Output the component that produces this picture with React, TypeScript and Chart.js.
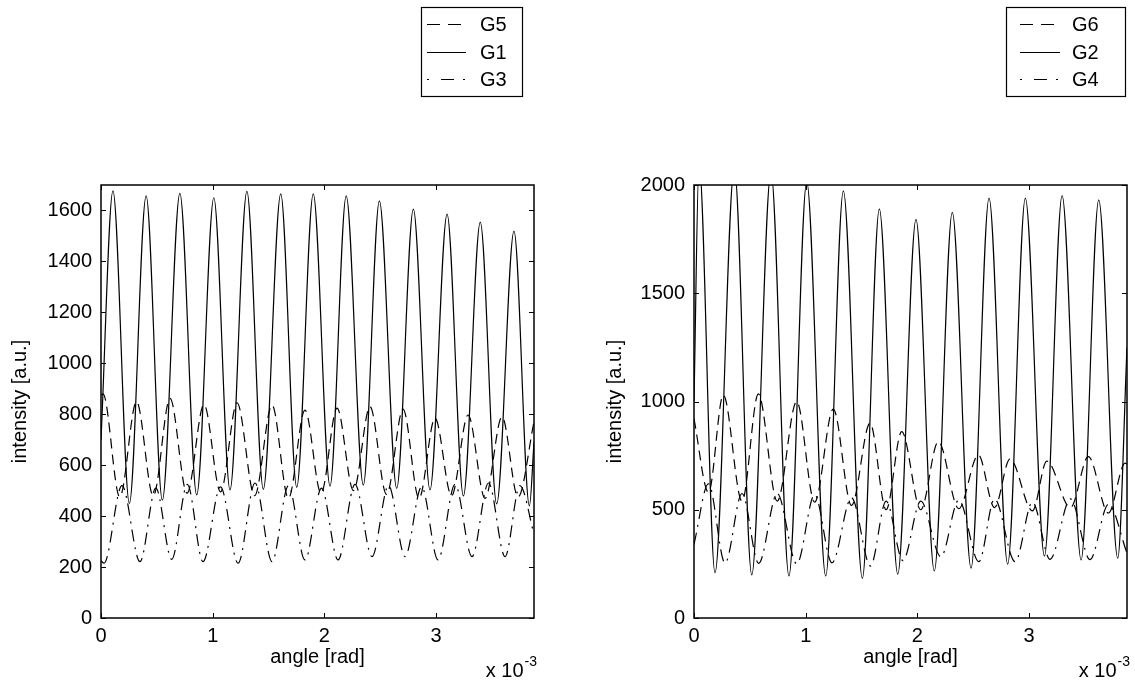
import React, { useEffect, useRef } from 'react';
import { Chart, registerables } from 'chart.js';

Chart.register(...registerables);

const FAMILY = "'Liberation Sans', Arial, Helvetica, sans-serif";
const FS = 20;

// ---------- data: angle in units of 1e-3 rad, intensity in a.u. ----------
// left panel
const g5Angle = [0, 0.018, 0.168, 0.318, 0.468, 0.618, 0.770, 0.922, 1.070, 1.218, 1.375, 1.531, 1.678, 1.826, 1.970, 2.113, 2.260, 2.408, 2.556, 2.704, 2.847, 2.990, 3.138, 3.286, 3.438, 3.590, 3.733, 3.876];
const g5Intensity = [875, 880, 475, 849, 480, 862, 490, 838, 495, 845, 480, 836, 470, 816, 490, 824, 500, 830, 485, 820, 470, 785, 480, 797, 470, 790, 475, 770];

const g1Angle = [0, 0.107, 0.254, 0.404, 0.549, 0.706, 0.857, 1.010, 1.155, 1.306, 1.453, 1.609, 1.752, 1.900, 2.050, 2.195, 2.348, 2.492, 2.647, 2.796, 2.945, 3.098, 3.244, 3.395, 3.542, 3.697, 3.835, 3.876];
const g1Intensity = [700, 1677, 450, 1657, 463, 1667, 483, 1650, 503, 1675, 505, 1665, 513, 1665, 518, 1657, 522, 1638, 509, 1605, 503, 1586, 479, 1554, 448, 1519, 440, 690];

const g3Angle = [0, 0.027, 0.188, 0.349, 0.491, 0.633, 0.773, 0.913, 1.070, 1.227, 1.379, 1.531, 1.678, 1.826, 1.974, 2.122, 2.274, 2.426, 2.574, 2.722, 2.870, 3.017, 3.169, 3.321, 3.469, 3.617, 3.750, 3.876];
const g3Intensity = [225, 215, 520, 221, 510, 230, 525, 221, 515, 215, 530, 221, 520, 228, 510, 228, 525, 241, 520, 241, 515, 228, 525, 241, 530, 241, 520, 330];

// right panel
const g6Angle = [0, 0.130, 0.262, 0.430, 0.576, 0.745, 0.919, 1.080, 1.247, 1.410, 1.576, 1.720, 1.859, 2.030, 2.187, 2.370, 2.545, 2.690, 2.829, 3.030, 3.158, 3.370, 3.530, 3.710, 3.859, 3.876];
const g6Intensity = [920, 580, 1030, 540, 1035, 540, 1000, 535, 965, 520, 900, 500, 861, 500, 815, 505, 753, 510, 735, 495, 725, 510, 745, 485, 715, 712];

const g2Angle = [0, 0.045, 0.188, 0.361, 0.517, 0.689, 0.850, 1.009, 1.179, 1.337, 1.507, 1.659, 1.824, 1.987, 2.151, 2.312, 2.480, 2.641, 2.808, 2.966, 3.137, 3.295, 3.465, 3.623, 3.793, 3.876];
const g2Intensity = [1000, 2100, 209, 2080, 199, 2060, 194, 2015, 194, 1973, 183, 1890, 202, 1841, 217, 1874, 230, 1939, 249, 1939, 286, 1951, 268, 1931, 276, 1250];

const g4Angle = [0, 0.130, 0.278, 0.430, 0.579, 0.745, 0.920, 1.080, 1.235, 1.410, 1.580, 1.720, 1.870, 2.030, 2.210, 2.370, 2.550, 2.690, 2.874, 3.030, 3.187, 3.370, 3.545, 3.710, 3.876];
const g4Intensity = [340, 620, 254, 575, 252, 575, 250, 570, 255, 555, 240, 540, 265, 540, 283, 545, 260, 550, 260, 535, 271, 550, 270, 525, 300];

// axes
const xMax = 3.876;
const xTicks = [0, 1, 2, 3];
const xTickLabels = ['0', '1', '2', '3'];
const yTicksLeft = [0, 200, 400, 600, 800, 1000, 1200, 1400, 1600];
const yMaxLeft = 1700;
const yTicksRight = [0, 500, 1000, 1500, 2000];
const yMaxRight = 2000;
const xTitle = 'angle [rad]';
const yTitle = 'intensity [a.u.]';
const expBase = 'x 10';
const expPow = '-3';

const DASHED = [10, 6];
const DASHDOT = [12, 6, 2, 6];
const SOLID: number[] = [];

type Series = { label: string; angle: number[]; intensity: number[]; dash: number[]; legendDash: number[] };

const leftSeries: Series[] = [
  { label: 'G5', angle: g5Angle, intensity: g5Intensity, dash: DASHED, legendDash: [13, 8, 13, 100] },
  { label: 'G1', angle: g1Angle, intensity: g1Intensity, dash: SOLID, legendDash: [] },
  { label: 'G3', angle: g3Angle, intensity: g3Intensity, dash: DASHDOT, legendDash: [2, 12, 13, 9, 2, 100] },
];
const rightSeries: Series[] = [
  { label: 'G6', angle: g6Angle, intensity: g6Intensity, dash: DASHED, legendDash: [13, 8, 13, 100] },
  { label: 'G2', angle: g2Angle, intensity: g2Intensity, dash: SOLID, legendDash: [] },
  { label: 'G4', angle: g4Angle, intensity: g4Intensity, dash: DASHDOT, legendDash: [2, 12, 13, 9, 2, 100] },
];

type PanelCfg = {
  canvasLeft: number;
  canvasWidth: number;
  series: Series[];
  yTicks: number[];
  yMax: number;
  yAxisWidth: number;
  padRight: number;
  yTitlePad: number;
  legendBox: [number, number, number, number];
  sampleX: [number, number];
  textX: number;
  rowsY: number[];
};

function makeFramePlugin(cfg: PanelCfg) {
  return {
    id: 'matlabFrame',
    afterDatasetsDraw(chart: any) {
      const { ctx, chartArea: a, scales } = chart;
      ctx.save();
      ctx.strokeStyle = '#000';
      ctx.setLineDash([]);
      // inward tick marks on all four sides
      const tl = 5;
      ctx.lineWidth = 1;
      ctx.beginPath();
      for (const t of scales.x.ticks) {
        const px = Math.round(scales.x.getPixelForValue(t.value)) + 0.5;
        ctx.moveTo(px, a.bottom);
        ctx.lineTo(px, a.bottom - tl);
        ctx.moveTo(px, a.top);
        ctx.lineTo(px, a.top + tl);
      }
      for (const t of scales.y.ticks) {
        const py = Math.round(scales.y.getPixelForValue(t.value)) + 0.5;
        ctx.moveTo(a.left, py);
        ctx.lineTo(a.left + tl, py);
        ctx.moveTo(a.right, py);
        ctx.lineTo(a.right - tl, py);
      }
      ctx.stroke();
      // box
      ctx.lineWidth = 1.5;
      ctx.strokeRect(a.left, a.top, a.right - a.left, a.bottom - a.top);

      // legend
      const [bx0, by0, bx1, by1] = cfg.legendBox;
      ctx.fillStyle = '#fff';
      ctx.fillRect(bx0, by0, bx1 - bx0, by1 - by0);
      ctx.lineWidth = 1.2;
      ctx.strokeRect(bx0 + 0.5, by0 + 0.5, bx1 - bx0, by1 - by0);
      ctx.font = `${FS}px ${FAMILY}`;
      ctx.textBaseline = 'middle';
      ctx.textAlign = 'left';
      ctx.fillStyle = '#000';
      cfg.series.forEach((s, i) => {
        const y = cfg.rowsY[i] + 0.5;
        ctx.lineWidth = 1.2;
        ctx.setLineDash(s.legendDash);
        ctx.beginPath();
        ctx.moveTo(cfg.sampleX[0], y);
        ctx.lineTo(cfg.sampleX[1], y);
        ctx.stroke();
        ctx.setLineDash([]);
        ctx.fillText(s.label, cfg.textX, cfg.rowsY[i] + 1);
      });

      // exponent label
      ctx.textBaseline = 'alphabetic';
      ctx.font = `${FS}px ${FAMILY}`;
      const wBase = ctx.measureText(expBase).width;
      ctx.font = `${Math.round(FS * 0.7)}px ${FAMILY}`;
      const wPow = ctx.measureText(expPow).width;
      const xEnd = a.right + 3;
      const xStart = xEnd - wBase - wPow - 1;
      ctx.font = `${FS}px ${FAMILY}`;
      ctx.fillText(expBase, xStart, 677);
      ctx.font = `${Math.round(FS * 0.7)}px ${FAMILY}`;
      ctx.fillText(expPow, xStart + wBase + 1, 666);
      ctx.restore();
    },
  };
}

function Panel({ cfg }: { cfg: PanelCfg }) {
  const ref = useRef<HTMLCanvasElement>(null);
  useEffect(() => {
    const canvas = ref.current;
    if (!canvas) return;
    const font = { family: FAMILY, size: FS };
    const chart = new Chart(canvas, {
      type: 'line',
      data: {
        datasets: cfg.series.map((s) => ({
          label: s.label,
          data: s.angle.map((x, i) => ({ x, y: s.intensity[i] })),
          borderColor: '#000',
          borderWidth: 1.2,
          borderDash: s.dash,
          pointRadius: 0,
          fill: false,
          tension: 0.4,
          cubicInterpolationMode: 'monotone',
        })),
      },
      options: {
        responsive: false,
        animation: false,
        devicePixelRatio: 1,
        events: [],
        layout: { padding: { left: 0, top: 185, right: cfg.padRight, bottom: 0 } },
        plugins: { legend: { display: false }, tooltip: { enabled: false } },
        scales: {
          x: {
            type: 'linear',
            min: 0,
            max: xMax,
            afterBuildTicks: (s: any) => {
              s.ticks = xTicks.map((v) => ({ value: v }));
            },
            afterFit: (s: any) => {
              s.height = 71;
            },
            grid: { display: false, drawTicks: false },
            border: { display: false },
            ticks: {
              padding: 6,
              color: '#000',
              font,
              maxRotation: 0,
              autoSkip: false,
              callback: (_v: any, i: number) => xTickLabels[i],
            },
            title: { display: true, text: xTitle, color: '#000', font, padding: { top: 0, bottom: 20 } },
          },
          y: {
            type: 'linear',
            min: 0,
            max: cfg.yMax,
            afterBuildTicks: (s: any) => {
              s.ticks = cfg.yTicks.map((v) => ({ value: v }));
            },
            afterFit: (s: any) => {
              s.width = cfg.yAxisWidth;
            },
            grid: { display: false, drawTicks: false },
            border: { display: false },
            ticks: { padding: 9, color: '#000', font, autoSkip: false, callback: (v: any) => String(v) },
            title: { display: true, text: yTitle, color: '#000', font, padding: { top: cfg.yTitlePad, bottom: 0 } },
          },
        },
      },
      plugins: [makeFramePlugin(cfg)],
    } as any);
    return () => chart.destroy();
  }, []);
  return (
    <canvas
      ref={ref}
      width={cfg.canvasWidth}
      height={689}
      style={{ position: 'absolute', left: cfg.canvasLeft, top: 0, width: cfg.canvasWidth, height: 689 }}
    />
  );
}

const leftCfg: PanelCfg = {
  canvasLeft: 0,
  canvasWidth: 567,
  series: leftSeries,
  yTicks: yTicksLeft,
  yMax: yMaxLeft,
  yAxisWidth: 101,
  padRight: 33,
  yTitlePad: 8,
  legendBox: [421, 7, 522, 96],
  sampleX: [427, 466],
  textX: 480,
  rowsY: [24, 52, 79],
};

const rightCfg: PanelCfg = {
  canvasLeft: 567,
  canvasWidth: 568,
  series: rightSeries,
  yTicks: yTicksRight,
  yMax: yMaxRight,
  yAxisWidth: 127,
  padRight: 8,
  yTitlePad: 36,
  legendBox: [439, 7, 558, 96],
  sampleX: [453, 493],
  textX: 505,
  rowsY: [24, 52, 79],
};

export default function App() {
  return (
    <div style={{ position: 'fixed', left: 0, top: 0, width: 1135, height: 689, background: '#fff', overflow: 'hidden' }}>
      <Panel cfg={leftCfg} />
      <Panel cfg={rightCfg} />
    </div>
  );
}
